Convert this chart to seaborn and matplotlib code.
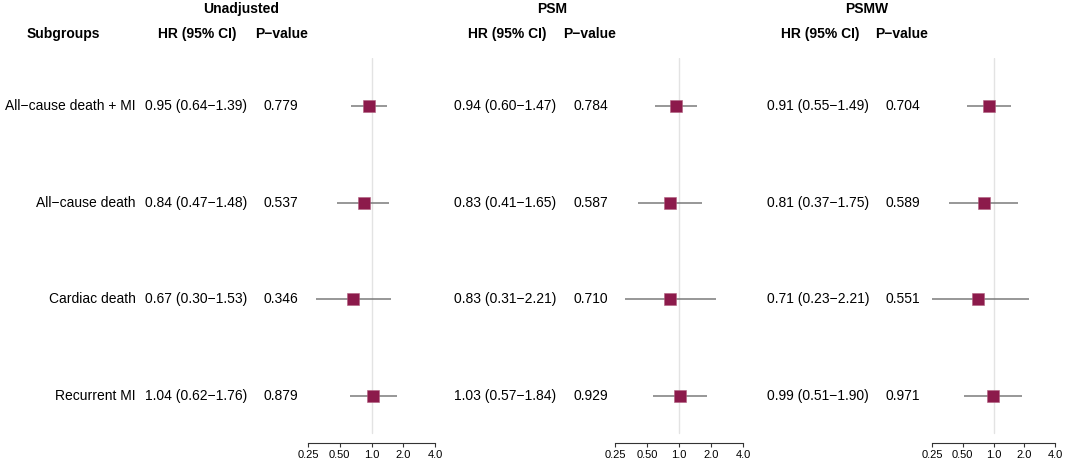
import numpy as np
import pandas as pd
import matplotlib
matplotlib.use('Agg')
import matplotlib.pyplot as plt
import matplotlib.transforms as mtransforms
import seaborn as sns

# Forest plot data
subgroups = ['All\u2212cause death + MI', 'All\u2212cause death', 'Cardiac death', 'Recurrent MI']
models = ['Unadjusted', 'PSM', 'PSMW']

hr = {
    'Unadjusted': [0.95, 0.84, 0.67, 1.04],
    'PSM': [0.94, 0.83, 0.83, 1.03],
    'PSMW': [0.91, 0.81, 0.71, 0.99],
}
ci_low = {
    'Unadjusted': [0.64, 0.47, 0.30, 0.62],
    'PSM': [0.60, 0.41, 0.31, 0.57],
    'PSMW': [0.55, 0.37, 0.23, 0.51],
}
ci_high = {
    'Unadjusted': [1.39, 1.48, 1.53, 1.76],
    'PSM': [1.47, 1.65, 2.21, 1.84],
    'PSMW': [1.49, 1.75, 2.21, 1.90],
}
p_values = {
    'Unadjusted': ['0.779', '0.537', '0.346', '0.879'],
    'PSM': ['0.784', '0.587', '0.710', '0.929'],
    'PSMW': ['0.704', '0.589', '0.551', '0.971'],
}
x_ticks = [0.25, 0.5, 1.0, 2.0, 4.0]
x_tick_labels = ['0.25', '0.50', '1.0', '2.0', '4.0']

sns.set_style('white')
plt.rcParams['font.family'] = ['Liberation Sans', 'DejaVu Sans']
plt.rcParams['text.color'] = 'black'
plt.rcParams['xtick.color'] = 'black'

W, H = 1065, 463
fig = plt.figure(figsize=(W / 100, H / 100), dpi=100)

def fx(px):
    return px / W

def fy(py):
    return 1 - py / H

# layout in pixels: (forest left, forest right, hr text x, p text x, title x, hr head x, p head x)
layout = {
    'Unadjusted': (308, 435, 145, 263, 241, 197, 282),
    'PSM': (615, 743, 454, 573, 552, 507, 590),
    'PSMW': (932, 1055, 767, 885, 867, 820, 902),
}
ax_top, ax_bottom = 58, 443

square_color = '#8c1a4b'
line_color = '#7a7a7a'
fs = 10

fig.text(fx(63), fy(34), 'Subgroups', ha='center', va='center', fontsize=fs, fontweight='bold')

for m in models:
    left, right, hr_x, p_x, t_x, hh_x, ph_x = layout[m]
    ax = fig.add_axes([fx(left), fy(ax_bottom), fx(right - left), (ax_bottom - ax_top) / H])
    df = pd.DataFrame({
        'row': np.arange(len(subgroups)),
        'hr': hr[m],
        'lo': ci_low[m],
        'hi': ci_high[m],
    })
    ax.set_xscale('log', base=2)
    ax.set_xlim(0.25, 4.0)
    ax.set_ylim(len(subgroups) - 0.51, -0.5)

    ax.axvline(1.0, ymin=0.026, ymax=1, color='#e3e3e3', lw=1.0, zorder=0)
    ax.hlines(df['row'], df['lo'], df['hi'], color=line_color, lw=1.1, zorder=2)
    sns.scatterplot(data=df, x='hr', y='row', marker='s', s=70, color=square_color,
                    edgecolor='#b0607f', linewidth=0.4, ax=ax, zorder=3, legend=False)

    ax.set_xticks(x_ticks)
    ax.set_xticklabels(x_tick_labels)
    ax.minorticks_off()
    ax.set_yticks([])
    ax.set_xlabel('')
    ax.set_ylabel('')
    for side in ['top', 'left', 'right']:
        ax.spines[side].set_visible(False)
    ax.spines['bottom'].set_color('#333333')
    ax.spines['bottom'].set_linewidth(0.8)
    ax.tick_params(axis='x', direction='out', length=3, width=0.8, color='#333333',
                   labelsize=8, pad=2, bottom=True)
    ax.patch.set_alpha(0)

    # headers
    fig.text(fx(t_x), fy(9), m, ha='center', va='center', fontsize=fs, fontweight='bold')
    fig.text(fx(hh_x), fy(34), 'HR (95% CI)', ha='center', va='center', fontsize=fs, fontweight='bold')
    fig.text(fx(ph_x), fy(34), 'P\u2212value', ha='center', va='center', fontsize=fs, fontweight='bold')

    # row texts: x in figure coords, y in data rows
    trans = mtransforms.blended_transform_factory(fig.transFigure, ax.transData)
    for i, row in df.iterrows():
        label = f"{row['hr']:.2f} ({row['lo']:.2f}\u2212{row['hi']:.2f})"
        fig.text(fx(hr_x), row['row'], label, transform=trans, ha='left', va='center', fontsize=fs)
        fig.text(fx(p_x), row['row'], p_values[m][i], transform=trans, ha='left', va='center', fontsize=fs)
        if m == 'Unadjusted':
            fig.text(fx(136), row['row'], subgroups[i], transform=trans, ha='right', va='center', fontsize=fs)

fig.savefig('out.png', dpi=100)
